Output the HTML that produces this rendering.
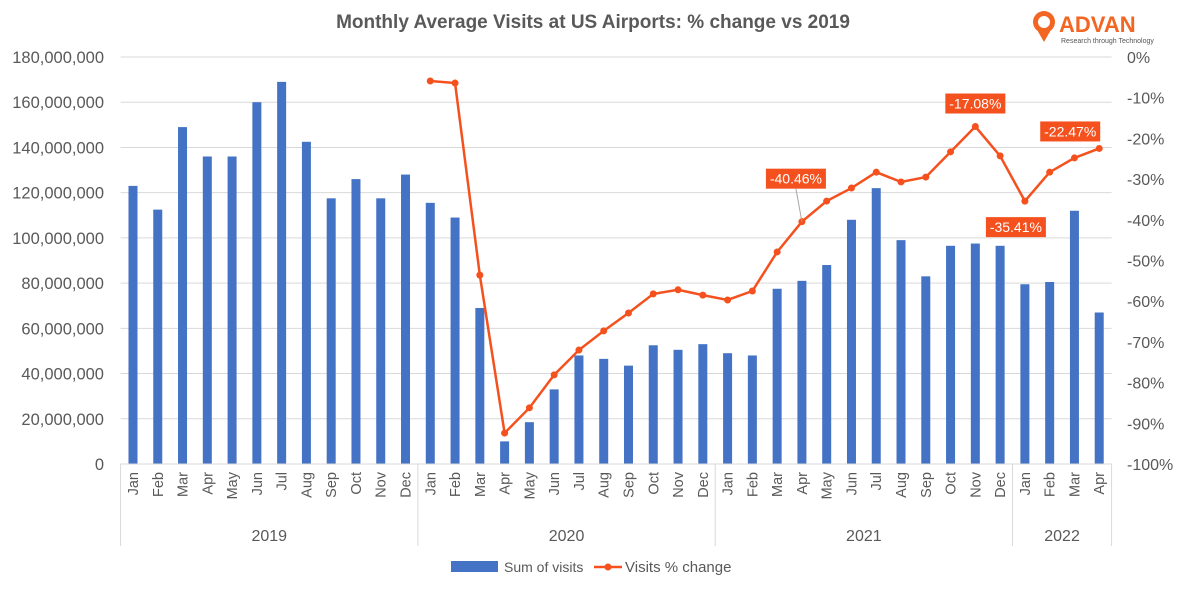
<!DOCTYPE html>
<html><head><meta charset="utf-8"><style>
body{margin:0;background:#fff;}
svg{display:block;font-family:"Liberation Sans",sans-serif;}
</style></head><body>
<svg id="chart" width="1186" height="591">
<text x="593" y="28" text-anchor="middle" font-size="19" font-weight="bold" fill="#595959">Monthly Average Visits at US Airports: % change vs 2019</text>
<g>
<circle cx="1044" cy="22" r="11" fill="#f26522"/>
<path d="M1036 28 L1044 42 L1052 28 Z" fill="#f26522"/>
<circle cx="1044" cy="22" r="6" fill="#fff"/>
<text x="1059" y="32" font-size="22" font-weight="bold" fill="#f26522">ADVAN</text>
<text x="1061" y="43" font-size="7" fill="#555">Research through Technology</text>
</g>
<g id="grid"></g><g id="bars"></g><g id="line"></g><g id="axes"></g>
<g>
<rect x="451" y="561" width="47" height="11" fill="#4472c4"/>
<text x="504" y="572" font-size="14" fill="#595959">Sum of visits</text>
<line x1="594" y1="567" x2="622" y2="567" stroke="#f4511e" stroke-width="2.5"/>
<circle cx="608" cy="567" r="3.5" fill="#f4511e"/>
<text x="625" y="572" font-size="15" fill="#595959">Visits % change</text>
</g>
</svg>
<script>
const months=["Jan","Feb","Mar","Apr","May","Jun","Jul","Aug","Sep","Oct","Nov","Dec"];
const years=["2019","2020","2021","2022"];
const visits=[123,112.5,149,136,136,160,169,142.5,117.5,126,117.5,128,
115.5,109,69,10,18.5,33,48,46.5,43.5,52.5,50.5,53,
49,48,77.5,81,88,108,122,99,83,96.5,97.5,96.5,
79.5,80.5,112,67];
const pctChange=[null,null,null,null,null,null,null,null,null,null,null,null,
-5.9,-6.4,-53.6,-92.4,-86.2,-78.1,-72,-67.3,-62.9,-58.2,-57.2,-58.5,
-59.7,-57.5,-47.9,-40.46,-35.4,-32.2,-28.3,-30.7,-29.5,-23.3,-17.08,-24.3,
-35.41,-28.3,-24.8,-22.47];
const leftTicks=[0,20,40,60,80,100,120,140,160,180];
const rightTicks=[0,-10,-20,-30,-40,-50,-60,-70,-80,-90,-100];
const callouts=[{i:27,dx:-6,dy:-43},{i:34,dx:0,dy:-23},{i:36,dx:-9,dy:26},{i:39,dx:-29,dy:-17}];

const NS="http://www.w3.org/2000/svg";
const L=120.6,R=1111.6,T=57,B=464,n=visits.length,step=(R-L)/n;
const xc=i=>L+step*(i+0.5);
const yL=v=>B-(v/180)*(B-T);
const yR=p=>T+(-p/100)*(B-T);
function mk(tag,attrs,parent){const e=document.createElementNS(NS,tag);for(const k in attrs)e.setAttribute(k,attrs[k]);parent.appendChild(e);return e;}
const grid=document.getElementById('grid'),bars=document.getElementById('bars'),line=document.getElementById('line'),axes=document.getElementById('axes');
leftTicks.forEach(v=>{
 const y=yL(v);
 const g=mk('line',{x1:L,x2:R,y1:y,y2:y,stroke:'#d9d9d9','stroke-width':1},grid);
 
 
 const t=mk('text',{x:104,y:y+6,'text-anchor':'end','font-size':16.5,fill:'#595959'},axes);
 t.textContent=v===0?'0':(v*1e6).toLocaleString('en-US');
 
 
});
rightTicks.forEach(p=>{
 const t=mk('text',{x:1127,y:yR(p)+6,'font-size':16,fill:'#595959'},axes);
 t.textContent=p+'%';
 
 
});
visits.forEach((v,i)=>{
 const b=mk('rect',{x:xc(i)-4.5,y:yL(v),width:9,height:B-yL(v),fill:'#4472c4'},bars);
 
 
 const t=mk('text',{transform:`translate(${xc(i)+5},${472}) rotate(-90)`,'text-anchor':'end','font-size':14.5,fill:'#595959'},axes);
 t.textContent=months[i%12];
 
 
});
mk('line',{x1:L,x2:R,y1:B,y2:B,stroke:'#d9d9d9'},axes);
let start=0;
years.forEach((yr,k)=>{
 const cnt=k<3?12:4;
 const x0=L+step*start,x1=L+step*(start+cnt);
 mk('line',{x1:x0,x2:x0,y1:B,y2:546,stroke:'#d9d9d9'},axes);
 if(k===3)mk('line',{x1:x1,x2:x1,y1:B,y2:546,stroke:'#d9d9d9'},axes);
 const t=mk('text',{x:(x0+x1)/2,y:541,'text-anchor':'middle','font-size':16,fill:'#595959'},axes);
 t.textContent=yr;
 
 
 start+=cnt;
});
let d='';
pctChange.forEach((p,i)=>{if(p===null)return;d+=(d?'L':'M')+xc(i)+' '+yR(p);});
const pl=mk('path',{d:d,fill:'none',stroke:'#f4511e','stroke-width':2.5},line);


pctChange.forEach((p,i)=>{if(p===null)return;
 const c=mk('circle',{cx:xc(i),cy:yR(p),r:3.5,fill:'#f4511e'},line);
 
 
});
callouts.forEach(c=>{
 const p=pctChange[c.i],x=xc(c.i)+c.dx,y=yR(p)+c.dy;
 if(c.i===27)mk('line',{x1:xc(c.i),y1:yR(p),x2:x,y2:y+10,stroke:'#a6a6a6'},line);
 const r=mk('rect',{x:x-30,y:y-10,width:60,height:20,fill:'#f4511e'},line);
 
 
 const t=mk('text',{x:x,y:y+5,'text-anchor':'middle','font-size':14,fill:'#fff'},line);
 t.textContent=p.toFixed(2)+'%';
 
 
});
</script>
</body></html>
